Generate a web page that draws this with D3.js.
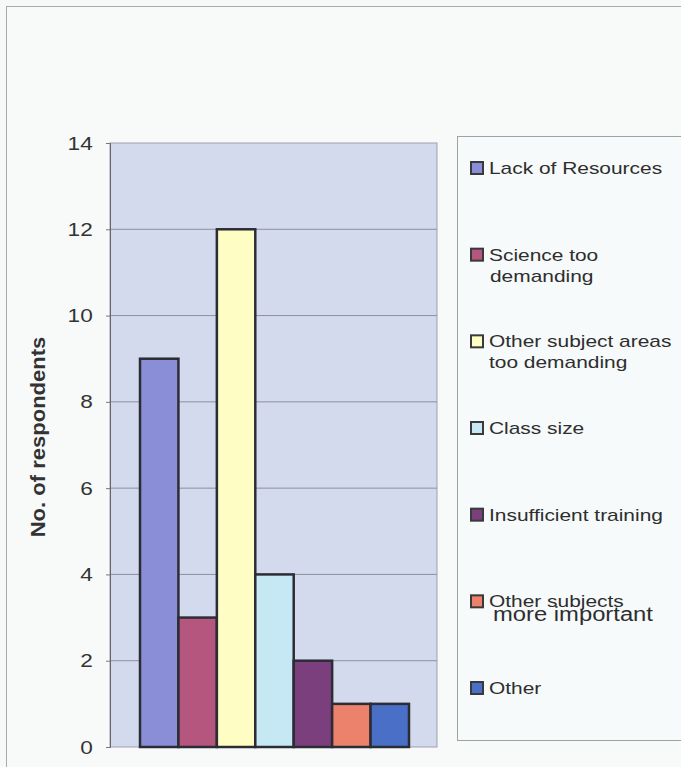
<!DOCTYPE html>
<html>
<head>
<meta charset="utf-8">
<script src="https://cdn.jsdelivr.net/npm/d3@7"></script>
<style>
  html, body { margin: 0; padding: 0; background: #f7f9f9; }
  svg { display: block; }
  text { font-family: "Liberation Sans", Arial, sans-serif; }
</style>
</head>
<body>
<svg id="chart" width="681" height="767"></svg>
<script>
// Reasons given by respondents
const reasons = [
  "Lack of Resources",
  "Science  too demanding",
  "Other subject areas too demanding",
  "Class size",
  "Insufficient training",
  "Other subjects more important",
  "Other"
];
const respondents = [9, 3, 12, 4, 2, 1, 1];
const barColors = ["#8a8ed6", "#b4567e", "#fefdc4", "#c6e8f5", "#7c3f7e", "#ec826c", "#4a6fc6"];
// legend lines per entry: [text, dx, dy, font size]
const legendLines = [
  [["Lack of Resources", 0, 0, 17]],
  [["Science  too", 0, 0, 17], ["demanding", 1, 21, 17]],
  [["Other subject areas", 0, 0, 17], ["too demanding", 0, 21, 17]],
  [["Class size", 0, 0, 17]],
  [["Insufficient training", 0, 0, 17]],
  [["Other subjects", 0, 0, 17], ["more important", 4, 14, 20]],
  [["Other", 0, 0, 17]]
];
const yTicks = [0, 2, 4, 6, 8, 10, 12, 14];

// glyphs in this chart are drawn slightly wide
const stretch = 1.19;
const legendStretch = 1.23;

const svg = d3.select("#chart");

// outer frame
svg.append("rect")
  .attr("x", 6.5).attr("y", 6.5)
  .attr("width", 690).attr("height", 780)
  .attr("fill", "#f8fafa").attr("stroke", "#a9abab").attr("stroke-width", 1);

const plot = { left: 110, right: 437, top: 143, bottom: 747 };

const y = d3.scaleLinear().domain([0, 14]).range([plot.bottom, plot.top]);
const x = d3.scaleBand().domain(d3.range(reasons.length))
  .range([140, 409]).paddingInner(0).paddingOuter(0);

// plot background
svg.append("rect")
  .attr("x", plot.left).attr("y", plot.top)
  .attr("width", plot.right - plot.left).attr("height", plot.bottom - plot.top)
  .attr("fill", "#d3daee").attr("stroke", "#9c9fb0").attr("stroke-width", 1);

// gridlines
svg.append("g")
  .selectAll("line")
  .data(yTicks.filter(d => d > 0 && d < 14))
  .join("line")
  .attr("x1", plot.left).attr("x2", plot.right)
  .attr("y1", d => y(d)).attr("y2", d => y(d))
  .attr("stroke", "#8d8f9c").attr("stroke-width", 1);

// y axis
const yAxis = svg.append("g")
  .attr("transform", `translate(${plot.left},0)`)
  .call(d3.axisLeft(y).tickValues(yTicks).tickSize(4).tickPadding(10.5).tickFormat(d3.format("d")));
yAxis.select(".domain").attr("stroke", "#666");
yAxis.selectAll(".tick line").attr("stroke", "#777");
yAxis.selectAll(".tick text")
  .attr("font-size", 19).attr("fill", "#333")
  .attr("transform", `scale(${stretch},1)`)
  .style("font-family", "'Liberation Sans', Arial, sans-serif");

// y axis title
svg.append("text")
  .attr("transform", `translate(45,${(plot.top + plot.bottom) / 2 - 8}) rotate(-90) scale(1.13,1)`)
  .attr("text-anchor", "middle")
  .attr("font-size", 19.5).attr("font-weight", "bold").attr("fill", "#333")
  .text("No. of respondents");

// bars
svg.append("g")
  .selectAll("rect")
  .data(respondents)
  .join("rect")
  .attr("x", (d, i) => x(i))
  .attr("y", d => y(d))
  .attr("width", x.bandwidth())
  .attr("height", d => y(0) - y(d))
  .attr("fill", (d, i) => barColors[i])
  .attr("stroke", "#2c2c34").attr("stroke-width", 2.5);

// legend
const legend = { x: 457, y: 136, w: 240, h: 604 };
svg.append("rect")
  .attr("x", legend.x + 0.5).attr("y", legend.y + 0.5)
  .attr("width", legend.w).attr("height", legend.h)
  .attr("fill", "#f6fafa").attr("stroke", "#9fa2a2");

const rowY = d3.scalePoint().domain(d3.range(reasons.length)).range([168, 688]);

const items = svg.append("g").selectAll("g")
  .data(reasons)
  .join("g")
  .attr("transform", (d, i) => `translate(${legend.x + 14},${rowY(i)})`);

items.append("rect")
  .attr("x", 0).attr("y", -6)
  .attr("width", 12).attr("height", 12)
  .attr("fill", (d, i) => barColors[i])
  .attr("stroke", "#3a3a3a").attr("stroke-width", 2);

items.each(function(d, i) {
  const g = d3.select(this);
  legendLines[i].forEach(([t, dx, dy, fs]) => {
    g.append("text")
      .attr("transform", `translate(${18 + dx},${6 + dy}) scale(${fs > 17 ? stretch : legendStretch},1)`)
      .attr("font-size", fs)
      .attr("fill", "#2e2e2e")
      .text(t);
  });
});
</script>
</body>
</html>
